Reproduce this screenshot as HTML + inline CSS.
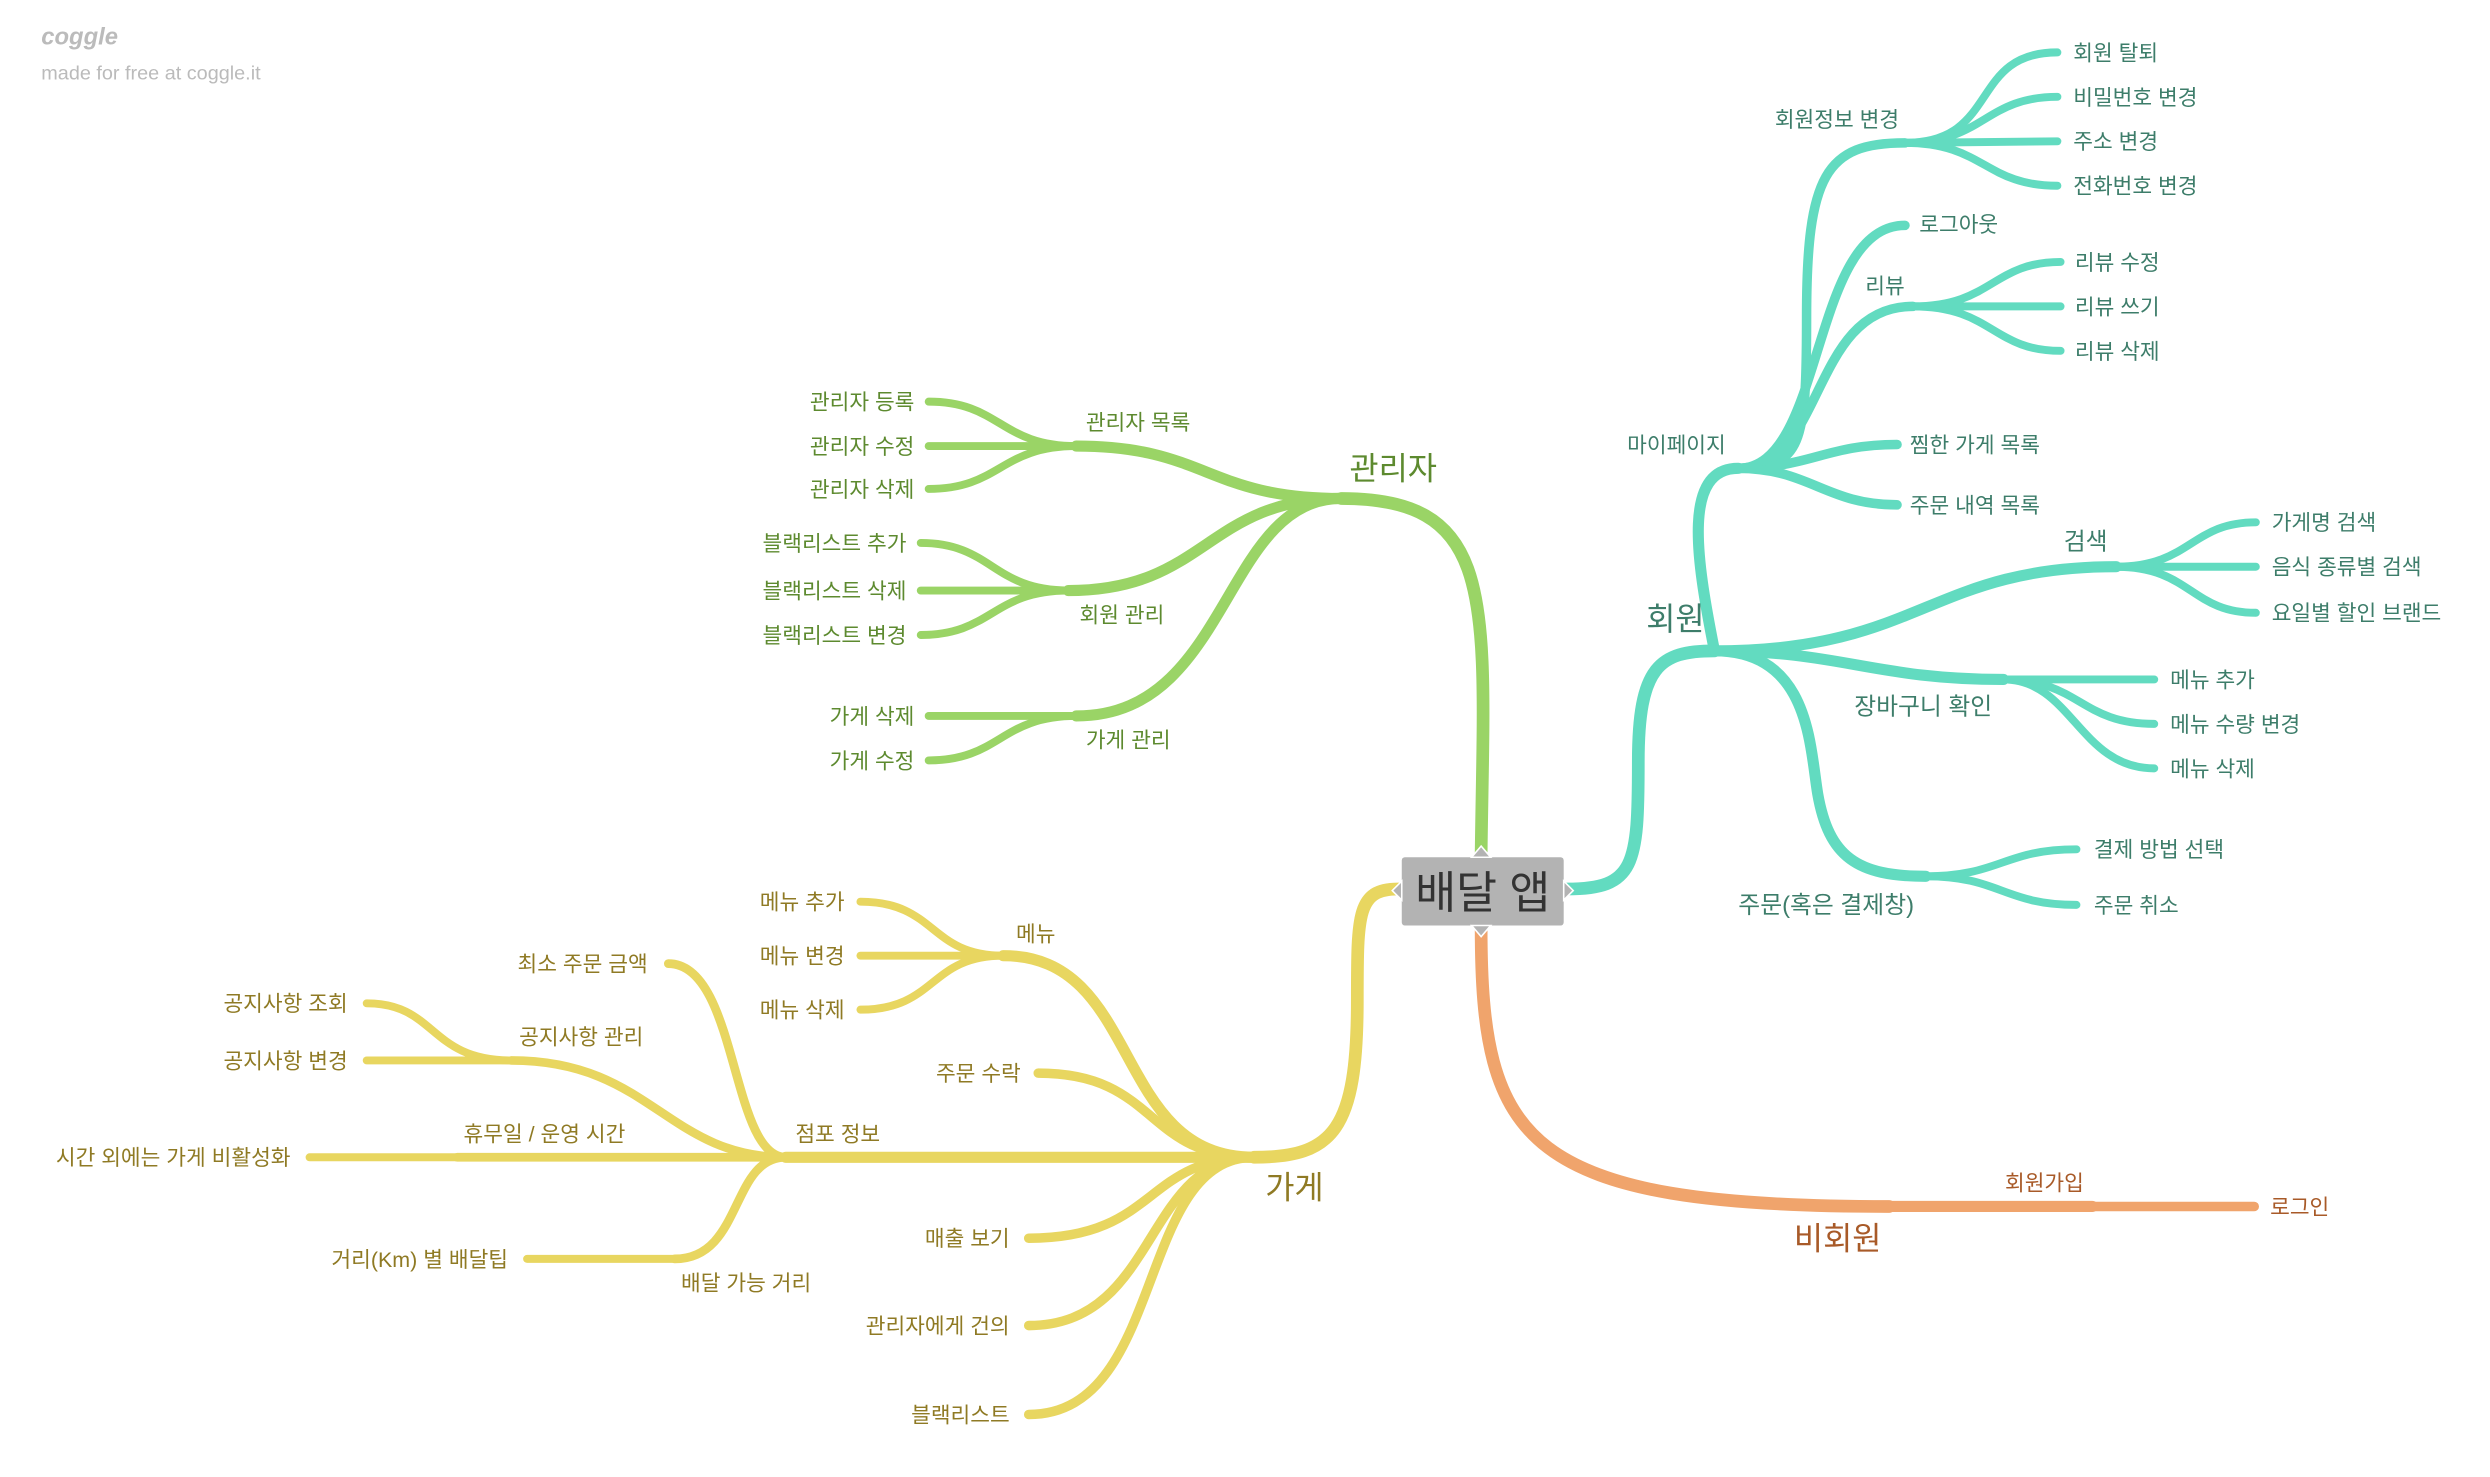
<!DOCTYPE html>
<html><head><meta charset="utf-8"><style>
html,body{margin:0;padding:0;background:#fff;}
svg{display:block}
text{font-family:"Liberation Sans","Noto Sans CJK KR",sans-serif;}
.g path,.t path,.y path,.o path{fill:none;stroke-linecap:round}
.g path{stroke:#9ad466}.t path{stroke:#62dbc0}.y path{stroke:#e8d660}.o path{stroke:#f0a46c}
.gt{fill:#5d8a2f}.tt{fill:#3d7d6a}.yt{fill:#8f7a24}.ot{fill:#a85a28}
.s{font-size:13.5px}.m{font-size:15px}.b{font-size:20px}
</style></head><body>
<svg width="2490" height="1477" viewBox="0 0 1568.5 930.4" xmlns="http://www.w3.org/2000/svg">
<text x="26" y="28" font-size="15" fill="#bbb" font-style="italic" font-weight="bold">coggle</text>
<text x="26" y="50" font-size="12.5" fill="#bbb">made for free at coggle.it</text>

<!-- GREEN -->
<g class="g">
<path d="M933,538 C935,380 945,314 845,314" stroke-width="8"/>
<path d="M845,314 C760,314 760,281 678,281" stroke-width="7"/>
<path d="M845,314 C760,314 760,372 673,372" stroke-width="7"/>
<path d="M845,314 C770,314 775,451 678,451" stroke-width="7"/>
<path d="M678,281 C630,281 630,253 585,253" stroke-width="5"/>
<path d="M678,281 L585,281" stroke-width="5"/>
<path d="M678,281 C630,281 630,308 585,308" stroke-width="5"/>
<path d="M673,372 C625,372 625,342 580,342" stroke-width="5"/>
<path d="M673,372 L580,372" stroke-width="5"/>
<path d="M673,372 C625,372 625,400 580,400" stroke-width="5"/>
<path d="M678,451 L585,451" stroke-width="5"/>
<path d="M678,451 C630,451 630,479 585,479" stroke-width="5"/>
</g>
<text x="850" y="302" class="gt b">관리자</text>
<text x="684" y="271" class="gt s">관리자 목록</text>
<text x="680" y="392" class="gt s">회원 관리</text>
<text x="684" y="471" class="gt s">가게 관리</text>
<g class="gt s" text-anchor="end">
<text x="576" y="258">관리자 등록</text><text x="576" y="286">관리자 수정</text><text x="576" y="313">관리자 삭제</text>
<text x="571" y="347">블랙리스트 추가</text><text x="571" y="377">블랙리스트 삭제</text><text x="571" y="405">블랙리스트 변경</text>
<text x="576" y="456">가게 삭제</text><text x="576" y="484">가게 수정</text>
</g>

<!-- TEAL -->
<g class="t">
<path d="M987,560 C1030,560 1032,545 1032,480 C1032,420 1045,410 1080,410" stroke-width="8"/>
<path d="M1080,410 C1068,350 1060,295 1095,295" stroke-width="7"/>
<path d="M1095,295 C1135,295 1138,280 1138,200 C1138,110 1150,90 1200,90" stroke-width="6"/>
<path d="M1095,295 C1150,295 1140,142 1200,142" stroke-width="6"/>
<path d="M1095,295 C1150,295 1140,193 1205,193" stroke-width="6"/>
<path d="M1095,295 C1140,295 1150,280 1195,280" stroke-width="6"/>
<path d="M1095,295 C1140,295 1150,318 1195,318" stroke-width="6"/>
<path d="M1200,90 C1260,90 1240,33 1296,33" stroke-width="5"/>
<path d="M1200,90 C1250,90 1250,61 1296,61" stroke-width="5"/>
<path d="M1200,90 L1296,89" stroke-width="5"/>
<path d="M1200,90 C1250,90 1250,117 1296,117" stroke-width="5"/>
<path d="M1205,193 C1255,193 1255,165 1298,165" stroke-width="5"/>
<path d="M1205,193 L1298,193" stroke-width="5"/>
<path d="M1205,193 C1255,193 1255,221 1298,221" stroke-width="5"/>
<path d="M1080,410 C1210,410 1215,357 1333,357" stroke-width="7"/>
<path d="M1333,357 C1380,357 1380,329 1421,329" stroke-width="5"/>
<path d="M1333,357 L1421,357" stroke-width="5"/>
<path d="M1333,357 C1380,357 1380,386 1421,386" stroke-width="5"/>
<path d="M1080,410 C1160,410 1180,428 1262,428" stroke-width="7"/>
<path d="M1262,428 L1357,428" stroke-width="5"/>
<path d="M1262,428 C1310,428 1310,456 1357,456" stroke-width="5"/>
<path d="M1262,428 C1305,428 1310,484 1357,484" stroke-width="5"/>
<path d="M1080,410 C1140,410 1140,470 1145,500 C1152,540 1170,552 1213,552" stroke-width="7"/>
<path d="M1213,552 C1260,552 1262,535 1308,535" stroke-width="5"/>
<path d="M1213,552 C1260,552 1262,570 1308,570" stroke-width="5"/>
</g>
<text x="1037" y="397" class="tt b">회원</text>
<text x="1025" y="285" class="tt s">마이페이지</text>
<text x="1118" y="80" class="tt s">회원정보 변경</text>
<text x="1209" y="146" class="tt s">로그아웃</text>
<text x="1175" y="185" class="tt s">리뷰</text>
<text x="1203" y="285" class="tt s">찜한 가게 목록</text>
<text x="1203" y="323" class="tt s">주문 내역 목록</text>
<text x="1300" y="346" class="tt m">검색</text>
<text x="1168" y="450" class="tt m">장바구니 확인</text>
<text x="1095" y="575" class="tt m">주문(혹은 결제창)</text>
<g class="tt s">
<text x="1306" y="38">회원 탈퇴</text><text x="1306" y="66">비밀번호 변경</text><text x="1306" y="94">주소 변경</text><text x="1306" y="122">전화번호 변경</text>
<text x="1307" y="170">리뷰 수정</text><text x="1307" y="198">리뷰 쓰기</text><text x="1307" y="226">리뷰 삭제</text>
<text x="1431" y="334">가게명 검색</text><text x="1431" y="362">음식 종류별 검색</text><text x="1431" y="391">요일별 할인 브랜드</text>
<text x="1367" y="433">메뉴 추가</text><text x="1367" y="461">메뉴 수량 변경</text><text x="1367" y="489">메뉴 삭제</text>
<text x="1319" y="540">결제 방법 선택</text><text x="1319" y="575">주문 취소</text>
</g>

<!-- ORANGE -->
<g class="o">
<path d="M933,584 C933,720 960,760 1190,760" stroke-width="8"/>
<path d="M1190,760 L1318,760" stroke-width="7"/>
<path d="M1318,760 L1420,760" stroke-width="6"/>
</g>
<text x="1130" y="787" class="ot b">비회원</text>
<text x="1263" y="750" class="ot s">회원가입</text>
<text x="1430" y="765" class="ot s">로그인</text>

<!-- YELLOW -->
<g class="y">
<path d="M881,560 C855,560 855,575 855,630 C855,712 840,729 790,729" stroke-width="8"/>
<path d="M790,729 C700,729 720,602 632,602" stroke-width="7"/>
<path d="M632,602 C585,602 590,568 542,568" stroke-width="5"/>
<path d="M632,602 L542,602" stroke-width="5"/>
<path d="M632,602 C585,602 590,636 542,636" stroke-width="5"/>
<path d="M790,729 C720,729 730,676 654,676" stroke-width="6"/>
<path d="M790,729 L495,729" stroke-width="7"/>
<path d="M790,729 C720,729 730,780 648,780" stroke-width="6"/>
<path d="M790,729 C720,729 730,835 648,835" stroke-width="6"/>
<path d="M790,729 C715,729 735,891 648,891" stroke-width="6"/>
<path d="M495,729 C460,729 465,607 421,607" stroke-width="5.5"/>
<path d="M495,729 C420,729 410,668 322,668" stroke-width="5.5"/>
<path d="M322,668 C270,668 275,632 231,632" stroke-width="5"/>
<path d="M322,668 L231,668" stroke-width="5"/>
<path d="M495,729 L288,729" stroke-width="5.5"/>
<path d="M288,729 L195,729" stroke-width="5"/>
<path d="M495,729 C460,729 468,793 425,793" stroke-width="5.5"/>
<path d="M425,793 L332,793" stroke-width="5"/>
</g>
<text x="797" y="755" class="yt b">가게</text>
<text x="640" y="593" class="yt s">메뉴</text>
<text x="501" y="719" class="yt s">점포 정보</text>
<text x="327" y="658" class="yt s">공지사항 관리</text>
<text x="292" y="719" class="yt s">휴무일 / 운영 시간</text>
<text x="429" y="813" class="yt s">배달 가능 거리</text>
<g class="yt s" text-anchor="end">
<text x="532" y="573">메뉴 추가</text><text x="532" y="607">메뉴 변경</text><text x="532" y="641">메뉴 삭제</text>
<text x="643" y="681">주문 수락</text><text x="636" y="785">매출 보기</text><text x="636" y="840">관리자에게 건의</text><text x="636" y="896">블랙리스트</text>
<text x="408" y="612">최소 주문 금액</text>
<text x="219" y="637">공지사항 조회</text><text x="219" y="673">공지사항 변경</text>
<text x="183" y="734">시간 외에는 가게 비활성화</text>
<text x="320" y="798">거리(Km) 별 배달팁</text>
</g>

<!-- CENTER -->
<rect x="883" y="540" width="102" height="43" rx="2" fill="#b3b3b3"/>
<path d="M927,540 L933,533 L939,540 Z M927,583 L933,590 L939,583 Z M883,555 L877,561 L883,567 Z M985,555 L991,561 L985,567 Z" fill="#b3b3b3" stroke="#fff" stroke-width="1"/>
<text x="934" y="572" text-anchor="middle" font-size="28" fill="#333">배달 앱</text>
</svg>
</body></html>
